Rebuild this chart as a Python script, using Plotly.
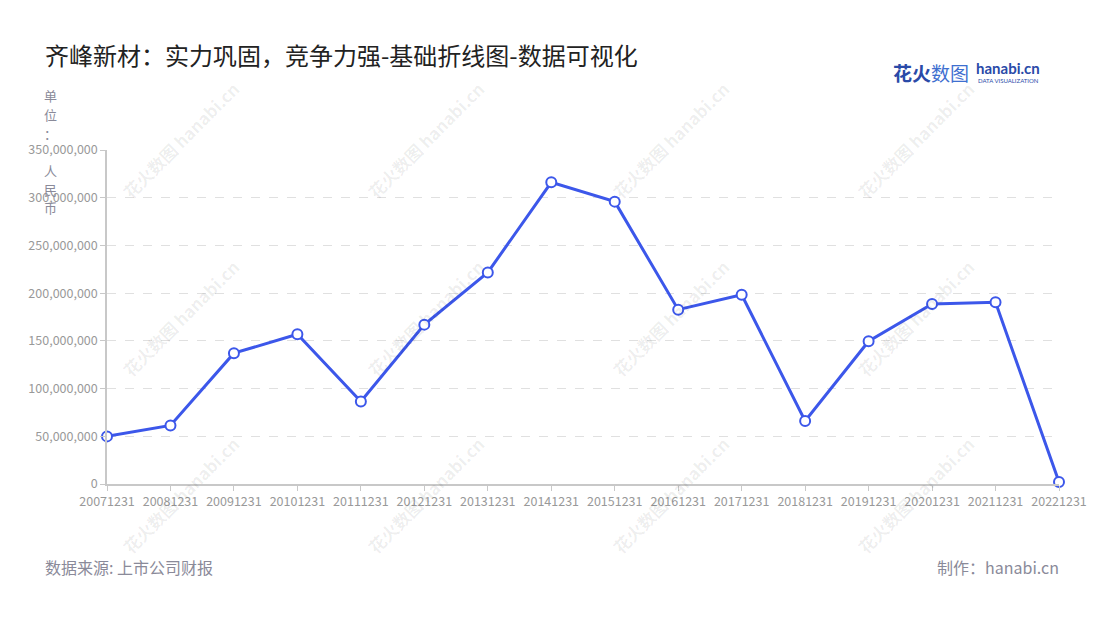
import plotly.graph_objects as go

categories = ["20071231", "20081231", "20091231", "20101231", "20111231", "20121231",
              "20131231", "20141231", "20151231", "20161231", "20171231", "20181231",
              "20191231", "20201231", "20211231", "20221231"]
values = [49.9e6, 61.4e6, 137.1e6, 156.9e6, 86.5e6, 167.0e6,
          221.7e6, 316.1e6, 295.9e6, 182.7e6, 198.3e6, 66.0e6,
          149.6e6, 188.6e6, 190.4e6, 2.1e6]
y_ticks = [0, 50e6, 100e6, 150e6, 200e6, 250e6, 300e6, 350e6]
y_tick_labels = ["0", "50,000,000", "100,000,000", "150,000,000", "200,000,000",
                 "250,000,000", "300,000,000", "350,000,000"]

FONT = "Noto Sans CJK SC, Noto Sans, sans-serif"
W, H = 1100, 620
OFF = 8  # page body margin offset
L = 107 - OFF
T = 150 - OFF
R = W - (1059 - OFF)
B = H - (484 - OFF)

x_idx = list(range(len(categories)))

fig = go.Figure()
fig.add_trace(go.Scatter(
    x=x_idx, y=values, mode="lines+markers",
    line=dict(color="#3c57ea", width=3),
    marker=dict(size=10, color="white", line=dict(color="#3c57ea", width=2)),
    cliponaxis=False, showlegend=False,
))

def px_to_paper_x(px):
    return (px - OFF - L) / (W - L - R)

def px_to_paper_y(py):
    return (H - B - (py - OFF)) / (H - B - T)

annotations = []
# watermarks
for cx in [180, 425, 670, 915]:
    for cy in [140, 318, 495]:
        annotations.append(dict(
            x=px_to_paper_x(cx), y=px_to_paper_y(cy), xref="paper", yref="paper",
            text="<b>花火数图</b> <b>hanabi.cn</b>", textangle=-45, showarrow=False,
            font=dict(family=FONT, size=17, color="rgba(0,0,0,0.07)"),
            xanchor="center", yanchor="middle"))

# y axis name, vertical characters
for ch, py in [("单", 95), ("位", 114), ("：", 133), ("人", 170), ("民", 189), ("币", 207)]:
    annotations.append(dict(
        x=px_to_paper_x(50), y=px_to_paper_y(py), xref="paper", yref="paper",
        text=ch, showarrow=False, font=dict(family=FONT, size=13, color="#8a8a99"),
        xanchor="center", yanchor="middle"))

# title
annotations.append(dict(
    x=px_to_paper_x(43), y=px_to_paper_y(55), xref="paper", yref="paper",
    text="齐峰新材：实力巩固，竞争力强-基础折线图-数据可视化", showarrow=False,
    font=dict(family=FONT, size=24, color="#222222"), xanchor="left", yanchor="middle"))

# footer
annotations.append(dict(
    x=px_to_paper_x(43), y=px_to_paper_y(567), xref="paper", yref="paper",
    text="数据来源: 上市公司财报", showarrow=False,
    font=dict(family=FONT, size=16, color="#8a8a99"), xanchor="left", yanchor="middle"))
annotations.append(dict(
    x=px_to_paper_x(1061), y=px_to_paper_y(567), xref="paper", yref="paper",
    text="制作：hanabi.cn", showarrow=False,
    font=dict(family=FONT, size=16, color="#8a8a99"), xanchor="right", yanchor="middle"))

# logo
annotations.append(dict(
    x=px_to_paper_x(891), y=px_to_paper_y(72), xref="paper", yref="paper",
    text="<b><span style='color:#2a4aa8'>花火</span></b><span style='color:#3e6fd0'>数图</span>",
    showarrow=False, font=dict(family=FONT, size=19, color="#2a4aa8"),
    xanchor="left", yanchor="middle"))
annotations.append(dict(
    x=px_to_paper_x(974), y=px_to_paper_y(68), xref="paper", yref="paper",
    text="<b>hanabi.cn</b>", showarrow=False,
    font=dict(family="Lato, sans-serif", size=15, color="#2a4aa8"),
    xanchor="left", yanchor="middle"))
annotations.append(dict(
    x=px_to_paper_x(976), y=px_to_paper_y(80), xref="paper", yref="paper",
    text="DATA VISUALIZATION", showarrow=False,
    font=dict(family="Lato, sans-serif", size=6, color="#2a4aa8"),
    xanchor="left", yanchor="middle"))

fig.update_layout(
    width=W, height=H,
    margin=dict(l=L, r=R, t=T, b=B, autoexpand=False),
    paper_bgcolor="white", plot_bgcolor="white",
    font=dict(family=FONT),
    annotations=annotations,
    xaxis=dict(
        range=[0, len(categories) - 1], tickvals=x_idx, ticktext=categories,
        showgrid=False, zeroline=False,
        showline=True, linecolor="#c8c8c8", linewidth=1.5,
        ticks="outside", ticklen=5, tickcolor="#c8c8c8", tickwidth=1,
        tickfont=dict(family=FONT, size=12.5, color="#999999"),
        fixedrange=True,
    ),
    yaxis=dict(
        range=[0, 350e6], tickvals=y_ticks, ticktext=y_tick_labels,
        showgrid=True, gridcolor="#e0e0e0", griddash="dash", gridwidth=1,
        zeroline=False, showline=True, linecolor="#c8c8c8", linewidth=1.5,
        ticks="outside", ticklen=5, tickcolor="#c8c8c8",
        tickfont=dict(family=FONT, size=12.5, color="#999999"),
        fixedrange=True,
    ),
)

fig.write_html("out.html")
